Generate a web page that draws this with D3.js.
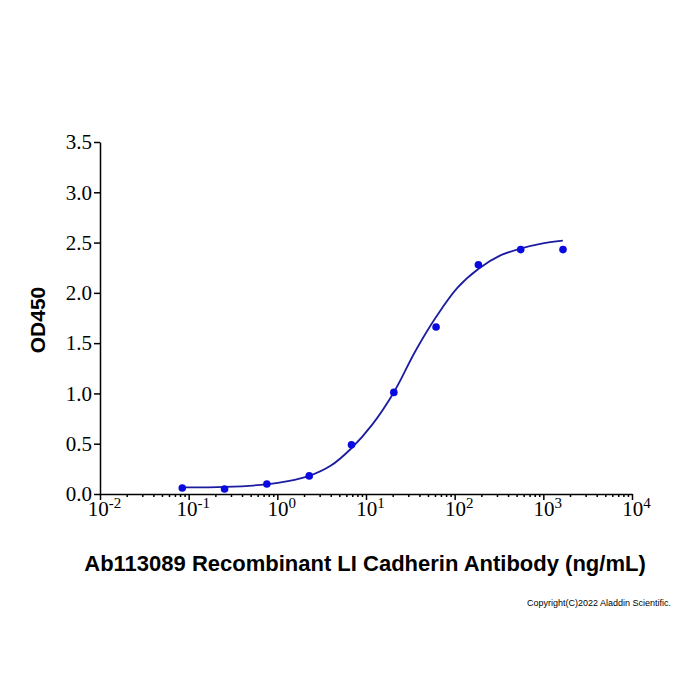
<!DOCTYPE html>
<html>
<head>
<meta charset="utf-8">
<script src="https://cdn.jsdelivr.net/npm/d3@7"></script>
<style>
  body { margin: 0; background: #fff; }
  .axis path, .axis line { stroke: #000; stroke-width: 1.5; }
  .axis text { font-family: "Liberation Serif", "Times New Roman", "DejaVu Serif", serif; font-size: 21px; fill: #000; }
</style>
</head>
<body>
<svg id="chart" width="700" height="700"></svg>
<script>
// measured points (ng/mL, OD450)
const conc = [0.0847, 0.254, 0.762, 2.29, 6.86, 20.6, 61.7, 185.2, 555.6, 1666.7];
const od = [0.06, 0.05, 0.10, 0.18, 0.49, 1.01, 1.66, 2.28, 2.43, 2.43];

// fitted curve (log10 conc, OD450)
const curveLogX = [-1.07, -0.59, -0.12, 0.12, 0.36, 0.6, 0.83, 1.07, 1.32, 1.55, 1.79, 2.03, 2.27, 2.51, 2.74, 2.98, 3.22];
const curveOD = [0.065, 0.07, 0.096, 0.127, 0.18, 0.28, 0.45, 0.69, 1.02, 1.41, 1.76, 2.05, 2.24, 2.37, 2.44, 2.49, 2.52];

const yTicks = [0, 0.5, 1, 1.5, 2, 2.5, 3, 3.5];
const xExps = [-2, -1, 0, 1, 2, 3, 4];

const margin = { left: 100, right: 68, top: 142, bottom: 206 };
const W = 700, H = 700;
const serif = '"Liberation Serif", "Times New Roman", "DejaVu Serif", serif';

const svg = d3.select('#chart');
const x = d3.scaleLog().domain([1e-2, 1e4]).range([margin.left, W - margin.right]);
const y = d3.scaleLinear().domain([0, 3.5]).range([H - margin.bottom, margin.top]);

// minor ticks on x
const minor = [];
xExps.slice(0, -1).forEach(e => {
  for (let k = 2; k < 10; k++) minor.push(k * Math.pow(10, e));
});
svg.append('g')
  .attr('class', 'axis')
  .attr('transform', 'translate(0,' + y(0) + ')')
  .call(d3.axisBottom(x).tickValues(minor).tickSize(3).tickFormat(''))
  .call(g => g.select('.domain').remove());

// x axis
const xAxis = svg.append('g')
  .attr('class', 'axis')
  .attr('transform', 'translate(0,' + y(0) + ')')
  .call(d3.axisBottom(x).tickValues(xExps.map(e => Math.pow(10, e))).tickSize(6).tickSizeOuter(0))
  .attr('font-family', serif)
  .attr('font-size', 21);

xAxis.selectAll('.tick text').each(function(d, i) {
  const t = d3.select(this).text(null)
    .attr('y', 22)
    .attr('dy', 0)
    .attr('dx', 4);
  t.append('tspan').text('10');
  t.append('tspan').text(xExps[i]).attr('dy', -8).attr('font-size', 15).style('font-size', '15px');
});

// y axis
svg.append('g')
  .attr('class', 'axis')
  .attr('transform', 'translate(' + margin.left + ',0)')
  .call(d3.axisLeft(y).tickValues(yTicks).tickSize(6).tickSizeOuter(0).tickFormat(d3.format('.1f')))
  .attr('font-family', serif)
  .attr('font-size', 21)
  .call(g => g.selectAll('.tick text').attr('x', -8));

// fitted curve
const line = d3.line()
  .x(d => x(Math.pow(10, d[0])))
  .y(d => y(d[1]))
  .curve(d3.curveCatmullRom.alpha(0.5));

svg.append('path')
  .datum(curveLogX.map((v, i) => [v, curveOD[i]]))
  .attr('d', line)
  .attr('fill', 'none')
  .attr('stroke', '#1c1ca0')
  .attr('stroke-width', 1.8);

// points
svg.selectAll('circle.pt')
  .data(conc.map((c, i) => ({ c, v: od[i] })))
  .enter()
  .append('circle')
  .attr('class', 'pt')
  .attr('cx', d => x(d.c))
  .attr('cy', d => y(d.v))
  .attr('r', 3.8)
  .style('fill', '#0a0ae0');

// axis titles
svg.append('text')
  .attr('x', 365)
  .attr('y', 571)
  .attr('text-anchor', 'middle')
  .style('font-family', '"Liberation Sans", Arial, sans-serif')
  .style('font-weight', 'bold')
  .style('font-size', '22px')
  .text('Ab113089 Recombinant LI Cadherin Antibody (ng/mL)');

svg.append('text')
  .attr('transform', 'translate(45,320) rotate(-90)')
  .attr('text-anchor', 'middle')
  .style('font-family', '"Liberation Sans", Arial, sans-serif')
  .style('font-weight', 'bold')
  .style('font-size', '21px')
  .text('OD450');

svg.append('text')
  .attr('x', 671)
  .attr('y', 606)
  .attr('text-anchor', 'end')
  .style('font-family', '"Liberation Sans", Arial, sans-serif')
  .style('font-size', '9px')
  .text('Copyright(C)2022 Aladdin Scientific.');
</script>
</body>
</html>
